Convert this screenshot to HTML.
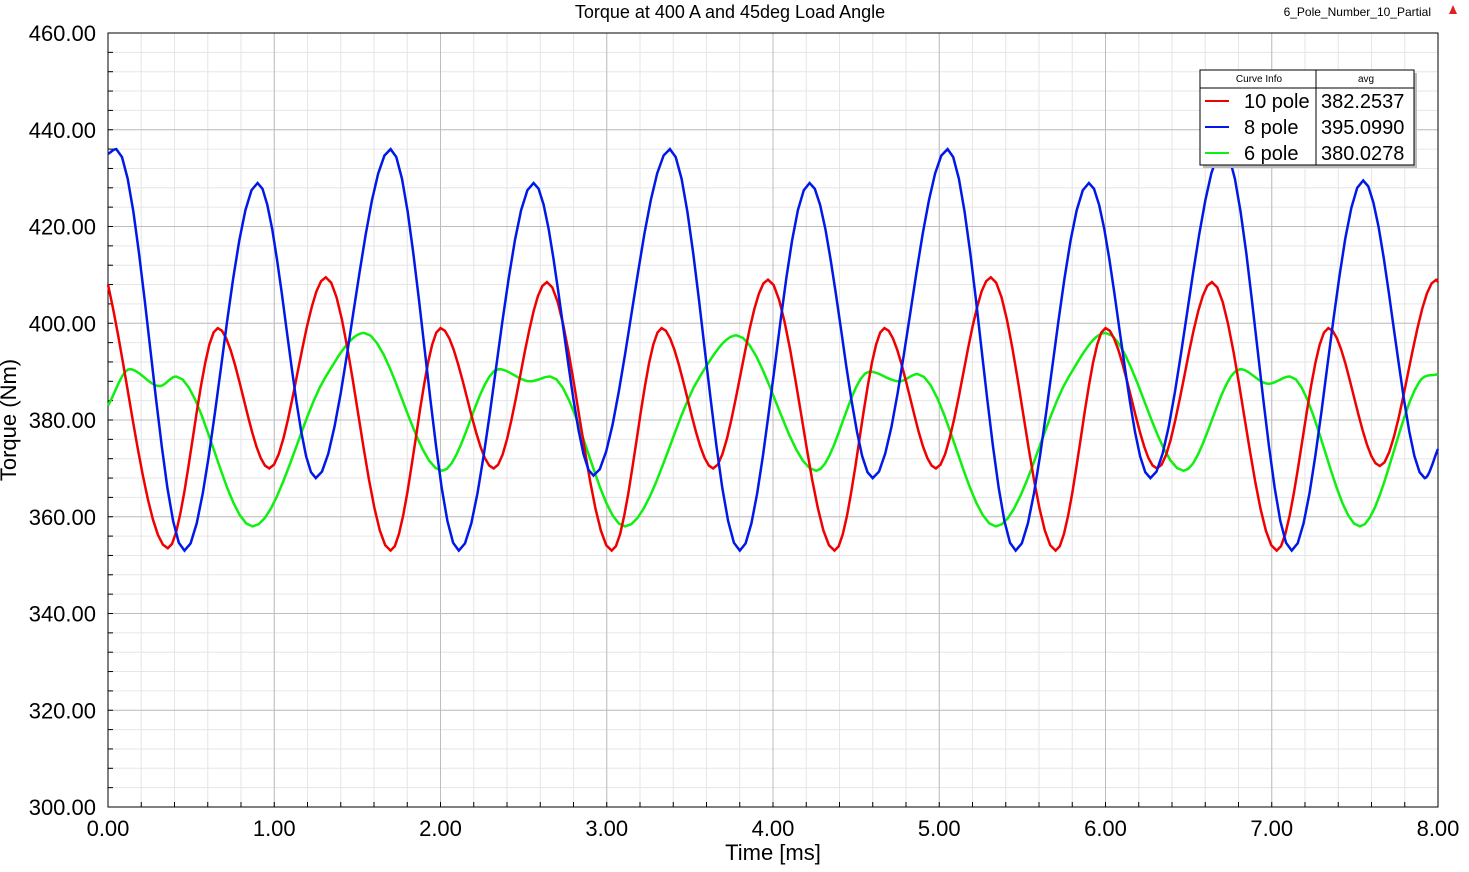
<!DOCTYPE html>
<html><head><meta charset="utf-8"><style>
body{margin:0;background:#fff;font-family:"Liberation Sans",Arial,sans-serif;}
svg text{font-family:"Liberation Sans",Arial,sans-serif;}
</style></head><body>
<svg id="chart" width="1469" height="867" xmlns="http://www.w3.org/2000/svg">
<rect width="1469" height="867" fill="#fff"/>
<g id="grid"></g>
<g id="axes"></g>
<g id="series"></g>
<text x="730" y="18" text-anchor="middle" font-size="18">Torque at 400 A and 45deg Load Angle</text>
<text x="1431" y="16" text-anchor="end" font-size="12">6_Pole_Number_10_Partial</text>
<polygon points="1453,5 1449,14 1457,14" fill="#d22"/>
<text x="16" y="420" text-anchor="middle" font-size="22" transform="rotate(-90 16 420)">Torque (Nm)</text>
<text x="773" y="860" text-anchor="middle" font-size="22">Time [ms]</text>
<g id="legend"></g>
</svg>
<script>
const xTicks=[0,1,2,3,4,5,6,7,8];
const yTicks=[300,320,340,360,380,400,420,440,460];
const redT=[0,0.36,0.66,0.97,1.31,1.70,2.00,2.32,2.64,3.03,3.33,3.64,3.97,4.37,4.67,4.98,5.31,5.70,6.00,6.31,6.64,7.03,7.34,7.65,7.99,8];
const redV=[408,353.5,399,370,409.5,353,399,370,408.5,353,399,370,409,353,399,370,409.5,353,399,370,408.5,353,399,370.5,409,408.5];
const blueT=[0,0.05,0.46,0.90,1.25,1.70,2.11,2.56,2.92,3.38,3.80,4.22,4.60,5.05,5.46,5.90,6.27,6.71,7.12,7.55,7.92,8];
const blueV=[435,436,353,429,368,436,353,429,368.5,436,353,429,368,436,353,429,368,436,353,429.5,368,374];
const greenT=[0,0.13,0.31,0.41,0.87,1.31,1.54,2.01,2.35,2.54,2.66,3.11,3.56,3.78,4.26,4.58,4.76,4.87,5.34,5.78,6.00,6.47,6.81,6.98,7.11,7.53,7.89,8];
const greenV=[383,390.5,387,389,358,389,398,369.5,390.5,388,389,358,389,397.5,369.5,390,388,389.5,358,389,398,369.5,390.5,387.5,389,358,388,389.5];
const legNames=["10 pole","8 pole","6 pole"];
const legAvg=["382.2537","395.0990","380.0278"];
const colors=["#f00000","#0018e8","#10f010"];
const X0=108,X1=1438,Y0=807,Y1=33;
const sx=t=>X0+(t-0)/8*(X1-X0);
const sy=v=>Y0-(v-300)/160*(Y0-Y1);
const NS="http://www.w3.org/2000/svg";
function mk(tag,attrs,parent){const e=document.createElementNS(NS,tag);for(const k in attrs)e.setAttribute(k,attrs[k]);parent.appendChild(e);return e;}
const grid=document.getElementById('grid'),axes=document.getElementById('axes'),ser=document.getElementById('series');
// minor grid
for(let t=0;t<=8.0001;t+=0.2){const l=mk('line',{x1:sx(t),x2:sx(t),y1:Y1,y2:Y0,stroke:'#e6e6e6','stroke-width':1},grid);}
for(let v=300;v<=460.001;v+=4){const l=mk('line',{x1:X0,x2:X1,y1:sy(v),y2:sy(v),stroke:'#e6e6e6','stroke-width':1},grid);}
xTicks.forEach(t=>{const l=mk('line',{x1:sx(t),x2:sx(t),y1:Y1,y2:Y0,stroke:'#bdbdbd','stroke-width':1},grid);
 const tx=mk('text',{x:sx(t),y:836,'text-anchor':'middle','font-size':22},axes);tx.textContent=t.toFixed(2);});
yTicks.forEach(v=>{const l=mk('line',{x1:X0,x2:X1,y1:sy(v),y2:sy(v),stroke:'#bdbdbd','stroke-width':1},grid);
 const tx=mk('text',{x:96,y:sy(v)+8,'text-anchor':'end','font-size':22},axes);tx.textContent=v.toFixed(2);});
for(let t=0;t<=8.0001;t+=0.2){mk('line',{x1:sx(t),x2:sx(t),y1:Y0,y2:Y0-5,stroke:'#000'},axes);}
for(let v=300;v<=460.001;v+=4){mk('line',{x1:X0,x2:X0+5,y1:sy(v),y2:sy(v),stroke:'#000'},axes);}
const fr=mk('rect',{x:X0,y:Y1,width:X1-X0,height:Y0-Y1,fill:'none',stroke:'#000','stroke-width':1},axes);

function monotone(T,V){const n=T.length,d=[],m=[];for(let i=0;i<n-1;i++)d.push((V[i+1]-V[i])/(T[i+1]-T[i]));
 m[0]=d[0];m[n-1]=d[n-2];for(let i=1;i<n-1;i++){m[i]=(d[i-1]*d[i]<=0)?0:(d[i-1]+d[i])/2;}
 const pts=[];for(let i=0;i<n-1;i++){const h=T[i+1]-T[i];for(let k=0;k<12;k++){const s=k/12,h00=2*s*s*s-3*s*s+1,h10=s*s*s-2*s*s+s,h01=-2*s*s*s+3*s*s,h11=s*s*s-s*s;
 const v=h00*V[i]+h10*h*m[i]+h01*V[i+1]+h11*h*m[i+1];pts.push([sx(T[i]+s*h),sy(v)]);}}
 pts.push([sx(T[n-1]),sy(V[n-1])]);return pts.map((p,i)=>(i?'L':'M')+p[0].toFixed(1)+','+p[1].toFixed(1)).join('');}
const sets=[[greenT,greenV,2,'series-6-pole'],[redT,redV,0,'series-10-pole'],[blueT,blueV,1,'series-8-pole']];
sets.forEach(s=>{const p=mk('path',{d:monotone(s[0],s[1]),fill:'none',stroke:colors[s[2]],'stroke-width':2.5},ser);});
const lg=document.getElementById('legend');
mk('rect',{x:1203,y:73,width:214,height:95,fill:'#bbb'},lg);
mk('rect',{x:1200,y:70,width:214,height:95,fill:'#fff',stroke:'#000'},lg);
mk('line',{x1:1200,x2:1414,y1:88,y2:88,stroke:'#000'},lg);
mk('line',{x1:1316,x2:1316,y1:70,y2:165,stroke:'#000'},lg);
let h=mk('text',{x:1259,y:82,'text-anchor':'middle','font-size':10},lg);h.textContent='Curve Info';
h=mk('text',{x:1366,y:82,'text-anchor':'middle','font-size':10},lg);h.textContent='avg';
legNames.forEach((n,i)=>{const y=101+i*26;
 const ln=mk('line',{x1:1205,x2:1229,y1:y,y2:y,stroke:colors[i],'stroke-width':2},lg);
 const t=mk('text',{x:1244,y:y+7,'font-size':20},lg);t.textContent=n;
 const a=mk('text',{x:1321,y:y+7,'font-size':20},lg);a.textContent=legAvg[i];});
</script>
</body></html>
